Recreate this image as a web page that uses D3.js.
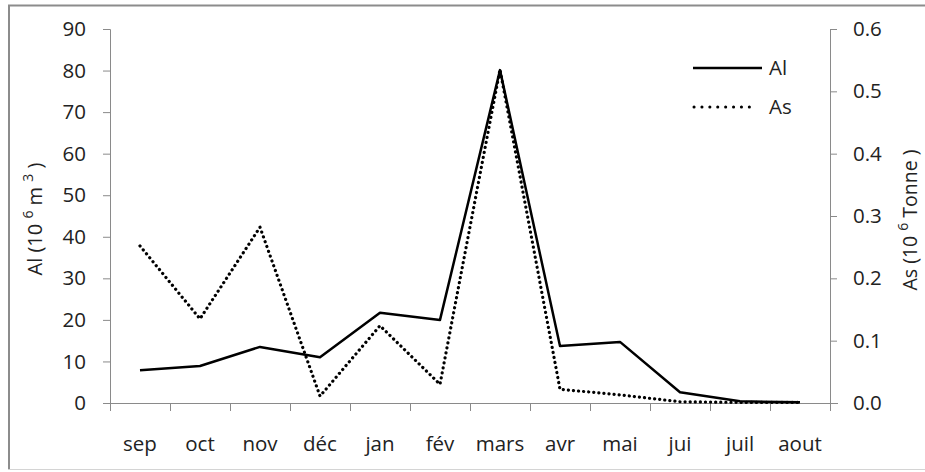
<!DOCTYPE html>
<html><head><meta charset="utf-8">
<script src="https://cdn.jsdelivr.net/npm/d3@7"></script>
<style>
body{margin:0;background:#fff;}
svg text{font-family:"Open Sans",sans-serif;fill:#222;}
</style></head>
<body><svg id="c" width="925" height="472"></svg>
<script>
const months = ["sep","oct","nov","déc","jan","fév","mars","avr","mai","jui","juil","aout"];
const alValues = [7.9, 8.9, 13.5, 11.0, 21.7, 20.0, 80.1, 13.7, 14.7, 2.6, 0.4, 0.2];
const asValues = [0.252, 0.135, 0.282, 0.011, 0.124, 0.030, 0.535, 0.022, 0.013, 0.002, 0.001, 0.001];
const leftTicks = [0,10,20,30,40,50,60,70,80,90];
const rightTicks = [0,0.1,0.2,0.3,0.4,0.5,0.6];
const seriesNames = ["Al","As"];

const svg = d3.select("#c");
const L = 110, R = 830, T = 29, B = 403;
const x = d3.scaleBand().domain(months).range([L, R]).padding(0);
const yL = d3.scaleLinear().domain([0, 90]).range([B, T]);
const yR = d3.scaleLinear().domain([0, 0.6]).range([B, T]);
const axisColor = "#8a8a8a";
const fs = 20.5;

// frame
svg.append("line").attr("x1",8).attr("x2",925).attr("y1",5.5).attr("y2",5.5).attr("stroke","#8c8c8c").attr("stroke-width",2);
svg.append("line").attr("x1",9).attr("x2",9).attr("y1",5).attr("y2",470).attr("stroke","#8c8c8c").attr("stroke-width",2);
svg.append("line").attr("x1",8).attr("x2",925).attr("y1",469.5).attr("y2",469.5).attr("stroke","#d4d4d4").attr("stroke-width",1);

// left axis
const gL = svg.append("g").attr("transform",`translate(${L},0)`)
  .call(d3.axisLeft(yL).tickValues(leftTicks).tickSize(7).tickPadding(17).tickFormat(d3.format("d")));
// right axis
const gR = svg.append("g").attr("transform",`translate(${R},0)`)
  .call(d3.axisRight(yR).tickValues(rightTicks).tickSize(7).tickPadding(16).tickFormat(d3.format(".1f")));
// bottom axis: labels at band centers
const gB = svg.append("g").attr("transform",`translate(0,${B})`)
  .call(d3.axisBottom(x).tickSize(0).tickPadding(33));
gB.select(".domain").attr("d",`M${L},0.5H${R+8}`);
// boundary ticks
const bounds = months.map(m => x(m)).concat([R]);
gB.selectAll(".btick").data(bounds).enter().append("line")
  .attr("x1",d=>d+0.5).attr("x2",d=>d+0.5).attr("y1",0).attr("y2",8).attr("stroke",axisColor);

[gL,gR,gB].forEach(g=>{
  g.select(".domain").attr("stroke",axisColor);
  g.selectAll(".tick line").attr("stroke",axisColor);
  g.selectAll(".tick text").attr("font-size",fs).attr("font-family","Open Sans").attr("fill","#222");
});

// lines
const cx = m => x(m) + x.bandwidth()/2;
const lineL = d3.line().x((d,i)=>cx(months[i])).y(d=>yL(d));
const lineR = d3.line().x((d,i)=>cx(months[i])).y(d=>yR(d));
svg.append("path").datum(alValues).attr("d",lineL).attr("fill","none").attr("stroke","#000").attr("stroke-width",2.5).attr("stroke-linejoin","round");
svg.append("path").datum(asValues).attr("d",lineR).attr("fill","none").attr("stroke","#000").attr("stroke-width",3.2)
  .attr("stroke-linecap","round").attr("stroke-dasharray","0.1,5");

// legend
svg.append("line").attr("x1",693).attr("x2",762).attr("y1",68).attr("y2",68).attr("stroke","#000").attr("stroke-width",2.5);
svg.append("line").attr("x1",694).attr("x2",757).attr("y1",107).attr("y2",107).attr("stroke","#000").attr("stroke-width",3)
  .attr("stroke-linecap","round").attr("stroke-dasharray","0.1,7.8");
svg.append("text").attr("x",769).attr("y",75).attr("font-size",fs).text(seriesNames[0]);
svg.append("text").attr("x",769).attr("y",114).attr("font-size",fs).text(seriesNames[1]);

// axis titles
const tl = svg.append("text").attr("transform","translate(42,219) rotate(-90)").attr("text-anchor","middle").attr("font-size",20);
tl.append("tspan").text("Al (10 ");
tl.append("tspan").attr("baseline-shift","super").attr("font-size",14).text("6");
tl.append("tspan").text(" m ");
tl.append("tspan").attr("baseline-shift","super").attr("font-size",14).text("3");
tl.append("tspan").text(" )");

const tr = svg.append("text").attr("transform","translate(917,220) rotate(-90)").attr("text-anchor","middle").attr("font-size",19.5);
tr.append("tspan").text("As (10 ");
tr.append("tspan").attr("baseline-shift","super").attr("font-size",14).text("6");
tr.append("tspan").text(" Tonne )");
</script></body></html>
